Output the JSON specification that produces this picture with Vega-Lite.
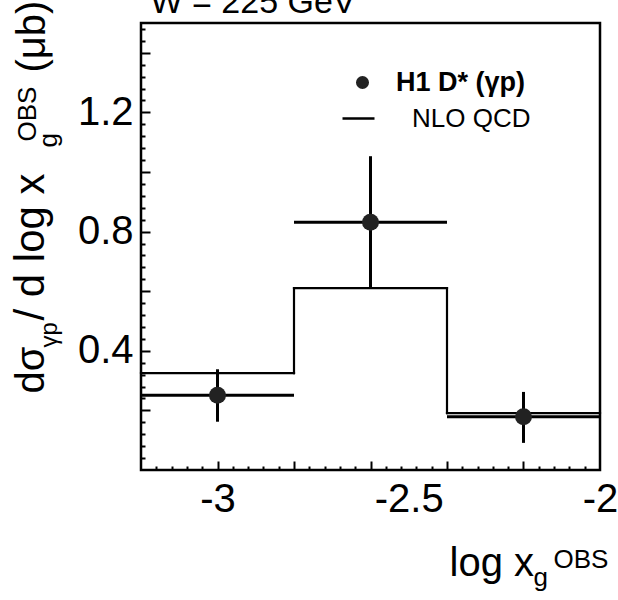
{
  "$schema": "https://vega.github.io/schema/vega-lite/v6.json",
  "autosize": {"type": "none"},
  "width": 459,
  "height": 447,
  "padding": {"left": 141, "top": 23, "right": 18, "bottom": 130},
  "background": "white",
  "config": {
    "view": {"stroke": "black", "strokeWidth": 2.5},
    "font": "Liberation Sans",
    "axis": {
      "grid": false,
      "domain": false,
      "labelColor": "black",
      "titleColor": "black",
      "labelFont": "Liberation Sans",
      "titleFont": "Liberation Sans",
      "titleFontWeight": "normal",
      "titleAlign": "left",
      "titleBaseline": "alphabetic"
    },
    "legend": {"labelFont": "Liberation Sans", "labelColor": "black"}
  },
  "data": {
    "values": [
      {"lo": -3.2, "hi": -2.8, "x": -3.0, "y": 0.251, "ylo": 0.162, "yhi": 0.338, "nlo": 0.325},
      {"lo": -2.8, "hi": -2.4, "x": -2.6, "y": 0.831, "ylo": 0.61, "yhi": 1.053, "nlo": 0.61},
      {"lo": -2.4, "hi": -2.0, "x": -2.2, "y": 0.179, "ylo": 0.091, "yhi": 0.262, "nlo": 0.191}
    ]
  },
  "layer": [
    {
      "mark": {"type": "rule", "color": "black", "strokeWidth": 2.2, "strokeCap": "square"},
      "encoding": {
        "x": {
          "field": "lo", "type": "quantitative",
          "scale": {"domain": [-3.2, -2.0], "nice": false, "zero": false},
          "axis": {
            "orient": "bottom", "values": [-3, -2.5, -2], "labels": true, "ticks": false,
            "labelExpr": "'-' + abs(datum.value)", "labelFontSize": 40, "labelPadding": 9,
            "labelFlush": false, "labelOverlap": false, "labelBound": false,
            "title": "log x", "titleFontSize": 40, "titleX": 308, "titleY": 105, "titleAngle": 0
          }
        },
        "x2": {"field": "hi"},
        "y": {
          "field": "nlo", "type": "quantitative",
          "scale": {"domain": [0, 1.5], "nice": false, "zero": false},
          "axis": {
            "orient": "left", "values": [0.4, 0.8, 1.2], "format": ".1f", "ticks": false,
            "labelFontSize": 40, "labelPadding": 8, "labelOverlap": false, "labelBound": false,
            "title": "dσ", "titleFontSize": 40, "titleX": -98, "titleY": 370, "titleAngle": 270
          }
        },
        "strokeDash": {
          "datum": "NLO QCD",
          "legend": {
            "orient": "none", "legendX": 200, "legendY": 78, "padding": 0, "title": null,
            "symbolType": "stroke", "symbolSize": 1024, "symbolStrokeColor": "black",
            "symbolStrokeWidth": 2.5, "labelFontSize": 26, "labelOffset": 36, "labelLimit": 300
          }
        }
      }
    },
    {
      "transform": [
        {"window": [{"op": "lead", "field": "nlo", "as": "next"}], "sort": [{"field": "lo"}]},
        {"filter": "datum.next != null"}
      ],
      "mark": {"type": "rule", "color": "black", "strokeWidth": 2.2, "strokeCap": "square"},
      "encoding": {
        "x": {
          "field": "hi", "type": "quantitative",
          "scale": {"domain": [-3.2, -2.0], "nice": false, "zero": false},
          "axis": {
            "orient": "bottom",
            "values": [-3.16, -3.12, -3.08, -3.04, -3.0, -2.96, -2.92, -2.88, -2.84, -2.8, -2.76, -2.72, -2.68, -2.64, -2.6, -2.56, -2.52, -2.48, -2.44, -2.4, -2.36, -2.32, -2.28, -2.24, -2.2, -2.16, -2.12, -2.08, -2.04],
            "labels": false, "ticks": true, "tickColor": "black",
            "tickSize": {"condition": {"test": "indexof([-3.0, -2.8, -2.6, -2.4, -2.2], datum.value) >= 0", "value": -9}, "value": -4},
            "tickWidth": 2,
            "title": "g", "titleFontSize": 26, "titleX": 392, "titleY": 115, "titleAngle": 0
          }
        },
        "y": {
          "field": "nlo", "type": "quantitative",
          "scale": {"domain": [0, 1.5], "nice": false, "zero": false},
          "axis": {
            "orient": "left",
            "values": [0.04, 0.08, 0.12, 0.16, 0.2, 0.24, 0.28, 0.32, 0.36, 0.4, 0.44, 0.48, 0.52, 0.56, 0.6, 0.64, 0.68, 0.72, 0.76, 0.8, 0.84, 0.88, 0.92, 0.96, 1.0, 1.04, 1.08, 1.12, 1.16, 1.2, 1.24, 1.28, 1.32, 1.36, 1.4, 1.44, 1.48],
            "labels": false, "ticks": true, "tickColor": "black",
            "tickSize": {"condition": {"test": "indexof([0.2, 0.4, 0.6, 0.8, 1.0, 1.2, 1.4], datum.value) >= 0", "value": -9}, "value": -4},
            "tickWidth": 2,
            "title": "γp", "titleFontSize": 24, "titleX": -85, "titleY": 324, "titleAngle": 270
          }
        },
        "y2": {"field": "next"}
      }
    },
    {
      "mark": {"type": "rule", "color": "black", "strokeWidth": 3},
      "encoding": {
        "x": {
          "field": "lo", "type": "quantitative",
          "scale": {"domain": [-3.2, -2.0], "nice": false, "zero": false},
          "axis": {
            "orient": "bottom", "values": [-3.0], "labels": false, "ticks": false,
            "title": "OBS", "titleFontSize": 26, "titleX": 412, "titleY": 97, "titleAngle": 0
          }
        },
        "x2": {"field": "hi"},
        "y": {
          "field": "y", "type": "quantitative",
          "scale": {"domain": [0, 1.5], "nice": false, "zero": false},
          "axis": {
            "orient": "left", "values": [0.2], "labels": false, "ticks": false,
            "title": "/ d log x", "titleFontSize": 42, "titleX": -98, "titleY": 297, "titleAngle": 270
          }
        }
      }
    },
    {
      "mark": {"type": "rule", "color": "black", "strokeWidth": 3},
      "encoding": {
        "x": {
          "field": "x", "type": "quantitative",
          "scale": {"domain": [-3.2, -2.0], "nice": false, "zero": false},
          "axis": {
            "orient": "top", "values": [-3.0], "labels": false, "ticks": false,
            "title": "W = 225 GeV", "titleFontSize": 34, "titleX": 9, "titleY": -11, "titleAngle": 0
          }
        },
        "y": {
          "field": "ylo", "type": "quantitative",
          "scale": {"domain": [0, 1.5], "nice": false, "zero": false},
          "axis": {
            "orient": "right", "values": [0.2], "labels": false, "ticks": false,
            "title": "g", "titleFontSize": 26, "titleX": -544, "titleY": 124, "titleAngle": 270
          }
        },
        "y2": {"field": "yhi"}
      }
    },
    {
      "mark": {"type": "point", "filled": true, "size": 289, "color": "#222222", "opacity": 1},
      "encoding": {
        "x": {
          "field": "x", "type": "quantitative",
          "scale": {"domain": [-3.2, -2.0], "nice": false, "zero": false},
          "axis": {
            "orient": "top", "values": [-3.0], "labels": false, "ticks": false,
            "title": "(μb)", "titleFontSize": 40, "titleX": -97, "titleY": 49, "titleAngle": 270
          }
        },
        "y": {
          "field": "y", "type": "quantitative",
          "scale": {"domain": [0, 1.5], "nice": false, "zero": false},
          "axis": {
            "orient": "right", "values": [0.2], "labels": false, "ticks": false,
            "title": "OBS", "titleFontSize": 26, "titleX": -565, "titleY": 118, "titleAngle": 270
          }
        },
        "shape": {
          "datum": "H1 D* (γp)",
          "legend": {
            "orient": "none", "legendX": 208, "legendY": 46, "padding": 0, "title": null,
            "symbolSize": 170, "symbolFillColor": "#222222", "symbolStrokeColor": "#222222",
            "symbolStrokeWidth": 1, "labelFontSize": 27, "labelFontWeight": "bold",
            "labelOffset": 20, "labelLimit": 300
          }
        }
      }
    }
  ],
  "resolve": {"axis": {"x": "independent", "y": "independent"}}
}
